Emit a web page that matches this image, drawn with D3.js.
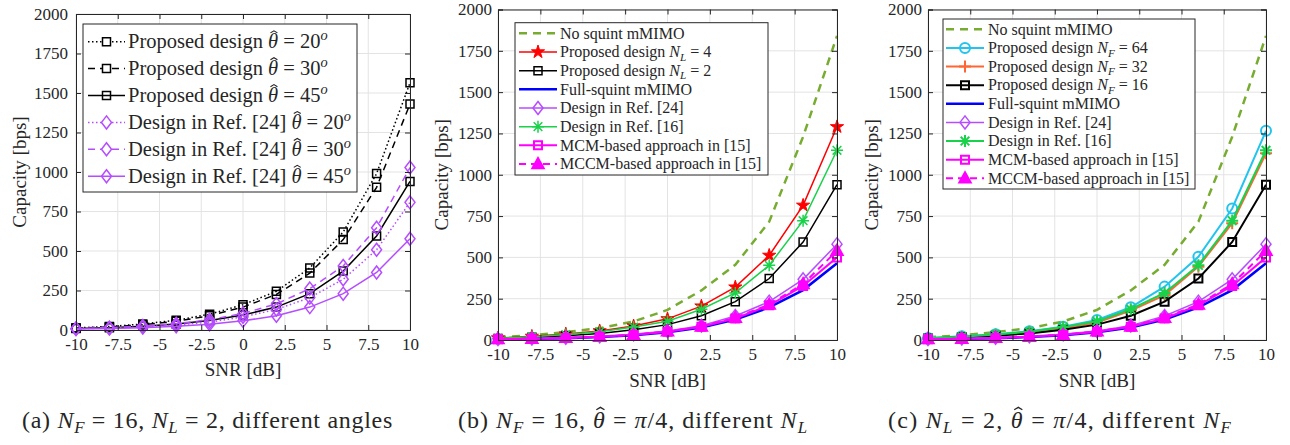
<!DOCTYPE html>
<html>
<head>
<meta charset="utf-8">
<script src="https://cdn.jsdelivr.net/npm/d3@7"></script>
<style>
  html, body { margin: 0; padding: 0; background: #fff; }
</style>
</head>
<body>
<svg id="fig" width="1290" height="445" style="font-family:'Liberation Serif'"></svg>
<script>
/* ---------------- data ---------------- */
const snr = [-10, -8, -6, -4, -2, 0, 2, 4, 6, 8, 10];
const xTicks = [-10, -7.5, -5, -2.5, 0, 2.5, 5, 7.5, 10];
const yTicks = [0, 250, 500, 750, 1000, 1250, 1500, 1750, 2000];

// panel (a): different angles
const propA20 = [13, 22, 38, 62, 100, 160, 245, 393, 620, 990, 1565];
const propA30 = [12, 20, 33, 55, 90, 145, 225, 360, 572, 903, 1430];
const propA45 = [9, 14, 23, 38, 60, 95, 145, 230, 373, 595, 940];
const ref24A20 = [8, 12, 20, 32, 50, 83, 130, 205, 321, 508, 808];
const ref24A30 = [10, 15, 25, 40, 65, 105, 165, 262, 405, 647, 1028];
const ref24A45 = [6, 10, 15, 23, 37, 58, 90, 145, 230, 364, 578];

// panels (b), (c): shared curves
const noSquint   = [17, 28, 48, 72, 112, 182, 300, 455, 716, 1230, 1840];
const fullSquint = [5, 7, 11, 18, 29, 47, 75, 123, 197, 302, 465];
const ref24      = [6, 9, 14, 22, 35, 55, 87, 145, 232, 367, 580];
const ref16      = [11, 20, 33, 50, 78, 113, 186, 285, 452, 722, 1148];
const mcm        = [5, 8, 12, 19, 31, 50, 80, 130, 210, 327, 500];
const mccm       = [5, 8, 13, 20, 32, 52, 82, 135, 215, 339, 540];
const propNL4    = [12, 22, 36, 55, 85, 128, 205, 320, 512, 815, 1290];
const propNL2    = [9, 16, 26, 40, 62, 93, 147, 232, 372, 593, 940];
const propNF64   = [12, 22, 35, 53, 80, 121, 198, 323, 504, 796, 1266];
const propNF32   = [10, 18, 30, 46, 70, 105, 178, 272, 444, 706, 1130];

const C = {
  black: "#000000", purple: "#b64cff", olive: "#77ac30", red: "#ff0000",
  blue: "#0000ff", green: "#19d24a", magenta: "#ff00ff", cyan: "#22c4ee", orange: "#ff6633"
};

/* ---------------- helpers ---------------- */
const svg = d3.select("#fig");
const FONT = "'Liberation Serif'";
const INK = "#262626";

const markerPath = {
  square:   r => `M${-r},${-r}H${r}V${r}H${-r}Z`,
  diamond:  r => `M0,${-r * 1.3}L${r},0L0,${r * 1.3}L${-r},0Z`,
  circle:   r => `M${r},0A${r},${r} 0 1,1 ${-r},0A${r},${r} 0 1,1 ${r},0Z`,
  plus:     r => `M${-r},0H${r}M0,${-r}V${r}`,
  asterisk: r => { const k = r * 0.72; return `M${-r},0H${r}M0,${-r}V${r}M${-k},${-k}L${k},${k}M${-k},${k}L${k},${-k}`; },
  star:     r => d3.symbol(d3.symbolStar, r * r * 1.5)(),
  triangle: r => `M0,${-r}L${r * 0.95},${r * 0.7}L${-r * 0.95},${r * 0.7}Z`
};

// rich text: segments {t, i (italic), sub, sup, hat}; optional target width
function rich(sel, segs, fs, parent, fitW) {
  sel.style("font-family", FONT).attr("fill", INK);
  let shift = 0, idx = 0;
  const hats = [];
  segs.forEach(s => {
    const ts = sel.append("tspan").text(s.t);
    if (s.i) ts.attr("font-style", "italic");
    let want = 0;
    if (s.sub) { want = fs * 0.22; ts.attr("font-size", fs * 0.7); }
    if (s.sup) { want = -fs * 0.4; ts.attr("font-size", fs * 0.7); }
    if (want !== shift) { ts.attr("dy", want - shift); shift = want; }
    if (s.hat) hats.push(idx);
    idx += s.t.length;
  });
  const node = sel.node();
  if (fitW) {
    const len = node.getComputedTextLength();
    sel.style("letter-spacing", ((fitW - len) / idx) + "px");
  }
  hats.forEach(k => {
    const a = node.getStartPositionOfChar(k), b = node.getEndPositionOfChar(k);
    const cx = (a.x + b.x) / 2 + fs * 0.04, top = a.y - fs * 0.86, w = fs * 0.17, h = fs * 0.1;
    parent.append("path")
      .attr("d", `M${cx - w},${top + h}L${cx},${top}L${cx + w},${top + h}`)
      .attr("fill", "none").attr("stroke", INK).attr("stroke-width", fs * 0.055);
  });
}

const seg = (t, o = {}) => Object.assign({ t }, o);
const TH = seg("\u03b8", { i: true, hat: true });

function drawPanel(p) {
  const x = d3.scaleLinear().domain([-10, 10]).range([p.left, p.right]);
  const y = d3.scaleLinear().domain([0, 2000]).range([p.bottom, p.top]);
  const g = svg.append("g");

  // grid
  g.append("g").selectAll("line").data(xTicks).join("line")
    .attr("x1", d => x(d)).attr("x2", d => x(d)).attr("y1", p.top).attr("y2", p.bottom)
    .attr("stroke", "#e3e3e3").attr("stroke-width", 1);
  g.append("g").selectAll("line").data(yTicks).join("line")
    .attr("y1", d => y(d)).attr("y2", d => y(d)).attr("x1", p.left).attr("x2", p.right)
    .attr("stroke", "#e3e3e3").attr("stroke-width", 1);

  // curves
  const line = d3.line().x((d, i) => x(snr[i])).y(d => y(d));
  p.series.forEach(s => {
    g.append("path").datum(s.data).attr("d", line)
      .attr("fill", "none").attr("stroke", s.color).attr("stroke-width", s.width)
      .attr("stroke-dasharray", s.dash || null);
    if (s.marker) {
      g.append("g").selectAll("path").data(s.data).join("path")
        .attr("transform", (d, i) => `translate(${x(snr[i])},${y(d)})`)
        .attr("d", markerPath[s.marker](s.ms))
        .attr("fill", s.fill ? s.color : "none")
        .attr("stroke", s.color).attr("stroke-width", s.mw || s.width);
    }
  });

  // axes (box with inward ticks)
  const fmt = d => String(d);
  const axB = d3.axisBottom(x).tickValues(xTicks).tickSize(-5).tickPadding(p.xPad).tickFormat(fmt);
  const axL = d3.axisLeft(y).tickValues(yTicks).tickSize(-5).tickPadding(p.yPad).tickFormat(fmt);
  const axT = d3.axisTop(x).tickValues(xTicks).tickSize(-5).tickFormat("");
  const axR = d3.axisRight(y).tickValues(yTicks).tickSize(-5).tickFormat("");
  [[axB, `0,${p.bottom}`], [axL, `${p.left},0`], [axT, `0,${p.top}`], [axR, `${p.right},0`]].forEach(([a, t]) => {
    const ag = g.append("g").attr("transform", `translate(${t})`).call(a);
    ag.attr("font-family", null).attr("font-size", null);
    ag.selectAll("path,line").attr("stroke", INK);
    ag.selectAll("text").style("font-family", FONT).style("font-size", p.tickFs + "px").attr("fill", INK);
  });

  // axis titles
  g.append("text").attr("x", (p.left + p.right) / 2).attr("y", p.xTitleY)
    .attr("text-anchor", "middle").attr("font-size", 19).style("font-family", FONT).attr("fill", INK)
    .text("SNR  [dB]");
  g.append("text").attr("transform", `translate(${p.yTitleX},${(p.top + p.bottom) / 2}) rotate(-90)`)
    .attr("text-anchor", "middle").attr("font-size", 19).style("font-family", FONT).attr("fill", INK)
    .text("Capacity  [bps]");

  // legend
  const L = p.legend;
  g.append("rect").attr("x", L.x).attr("y", L.y).attr("width", L.w).attr("height", L.h)
    .attr("fill", "#fff").attr("stroke", INK).attr("stroke-width", 1);
  p.series.forEach((s, i) => {
    const cy = L.row0 + i * L.dy;
    const lg = g.append("g");
    lg.append("line").attr("x1", L.lx0).attr("x2", L.lx1).attr("y1", cy).attr("y2", cy)
      .attr("stroke", s.color).attr("stroke-width", s.width).attr("stroke-dasharray", s.dash || null);
    if (s.marker) {
      lg.append("path").attr("transform", `translate(${(L.lx0 + L.lx1) / 2},${cy})`)
        .attr("d", markerPath[s.marker](s.ms))
        .attr("fill", s.fill ? s.color : (s.dash ? "#fff" : "none"))
        .attr("stroke", s.color).attr("stroke-width", s.mw || s.width);
    }
    const t = lg.append("text").attr("x", L.tx).attr("y", cy + L.fs * 0.33).attr("font-size", L.fs);
    rich(t, s.label, L.fs, lg);
  });

  // caption
  const cap = g.append("text").attr("x", p.capX).attr("y", 428).attr("font-size", 24);
  rich(cap, p.caption, 24, g, p.capW);
}

/* ---------------- panels ---------------- */
const lblProp = a => [seg("Proposed design "), TH, seg(` = ${a}`), seg("o", { i: true, sup: true })];
const lblRef = a => [seg("Design in Ref. [24] "), TH, seg(` = ${a}`), seg("o", { i: true, sup: true })];

drawPanel({
  left: 76, right: 410, top: 14, bottom: 330, tickFs: 17, xPad: 8, yPad: 8, xTitleY: 376, yTitleX: 26,
  capX: 22, capW: 371,
  legend: { x: 83, y: 24, w: 274, h: 168, row0: 41.7, dy: 26.9, lx0: 88, lx1: 125, tx: 128, fs: 20.5 },
  series: [
    { label: lblProp(20), data: propA20, color: C.black, width: 1.5, dash: "1.5,2.5", marker: "square", ms: 4 },
    { label: lblProp(30), data: propA30, color: C.black, width: 1.5, dash: "7,5", marker: "square", ms: 4 },
    { label: lblProp(45), data: propA45, color: C.black, width: 1.5, marker: "square", ms: 4 },
    { label: lblRef(20), data: ref24A20, color: C.purple, width: 1.5, dash: "1.5,2.5", marker: "diamond", ms: 5 },
    { label: lblRef(30), data: ref24A30, color: C.purple, width: 1.5, dash: "7,5", marker: "diamond", ms: 5 },
    { label: lblRef(45), data: ref24A45, color: C.purple, width: 1.5, marker: "diamond", ms: 5 }
  ],
  caption: [seg("(a) "), seg("N", { i: true }), seg("F", { i: true, sub: true }), seg(" = 16, "),
    seg("N", { i: true }), seg("L", { i: true, sub: true }), seg(" = 2, different angles")]
});

drawPanel({
  left: 498, right: 837, top: 9.5, bottom: 340, tickFs: 17, xPad: 8, yPad: 6, xTitleY: 387, yTitleX: 448,
  capX: 458, capW: 350,
  legend: { x: 515, y: 22.7, w: 253, h: 152.3, row0: 33.3, dy: 18.67, lx0: 519, lx1: 557, tx: 560, fs: 16 },
  series: [
    { label: [seg("No squint mMIMO")], data: noSquint, color: C.olive, width: 2.5, dash: "8,6" },
    { label: [seg("Proposed design "), seg("N", { i: true }), seg("L", { i: true, sub: true }), seg(" = 4")], data: propNL4, color: C.red, width: 1.5, marker: "star", ms: 6, fill: true, mw: 1 },
    { label: [seg("Proposed design "), seg("N", { i: true }), seg("L", { i: true, sub: true }), seg(" = 2")], data: propNL2, color: C.black, width: 1.5, marker: "square", ms: 4 },
    { label: [seg("Full-squint mMIMO")], data: fullSquint, color: C.blue, width: 2.5 },
    { label: [seg("Design in Ref. [24]")], data: ref24, color: C.purple, width: 1.5, marker: "diamond", ms: 5 },
    { label: [seg("Design in Ref. [16]")], data: ref16, color: C.green, width: 1.5, marker: "asterisk", ms: 6 },
    { label: [seg("MCM-based approach in [15]")], data: mcm, color: C.magenta, width: 2, marker: "square", ms: 4 },
    { label: [seg("MCCM-based approach in [15]")], data: mccm, color: C.magenta, width: 2, dash: "7,5", marker: "triangle", ms: 6, fill: true }
  ],
  caption: [seg("(b) "), seg("N", { i: true }), seg("F", { i: true, sub: true }), seg(" = 16, "),
    TH, seg(" = "), seg("\u03c0", { i: true }), seg("/4, different "),
    seg("N", { i: true }), seg("L", { i: true, sub: true })]
});

drawPanel({
  left: 928, right: 1266, top: 9.5, bottom: 340, tickFs: 17, xPad: 8, yPad: 6, xTitleY: 387, yTitleX: 878,
  capX: 888, capW: 344,
  legend: { x: 943, y: 19, w: 252, h: 170, row0: 29.3, dy: 18.62, lx0: 946, lx1: 984, tx: 988, fs: 16 },
  series: [
    { label: [seg("No squint mMIMO")], data: noSquint, color: C.olive, width: 2.5, dash: "8,6" },
    { label: [seg("Proposed design "), seg("N", { i: true }), seg("F", { i: true, sub: true }), seg(" = 64")], data: propNF64, color: C.cyan, width: 2, marker: "circle", ms: 5 },
    { label: [seg("Proposed design "), seg("N", { i: true }), seg("F", { i: true, sub: true }), seg(" = 32")], data: propNF32, color: C.orange, width: 2, marker: "plus", ms: 6 },
    { label: [seg("Proposed design "), seg("N", { i: true }), seg("F", { i: true, sub: true }), seg(" = 16")], data: propNL2, color: C.black, width: 2, marker: "square", ms: 4 },
    { label: [seg("Full-squint mMIMO")], data: fullSquint, color: C.blue, width: 2.5 },
    { label: [seg("Design in Ref. [24]")], data: ref24, color: C.purple, width: 1.5, marker: "diamond", ms: 5 },
    { label: [seg("Design in Ref. [16]")], data: ref16, color: C.green, width: 2, marker: "asterisk", ms: 6 },
    { label: [seg("MCM-based approach in [15]")], data: mcm, color: C.magenta, width: 2, marker: "square", ms: 4 },
    { label: [seg("MCCM-based approach in [15]")], data: mccm, color: C.magenta, width: 2, dash: "7,5", marker: "triangle", ms: 6, fill: true }
  ],
  caption: [seg("(c) "), seg("N", { i: true }), seg("L", { i: true, sub: true }), seg(" = 2, "),
    TH, seg(" = "), seg("\u03c0", { i: true }), seg("/4, different "),
    seg("N", { i: true }), seg("F", { i: true, sub: true })]
});
</script>
</body>
</html>
